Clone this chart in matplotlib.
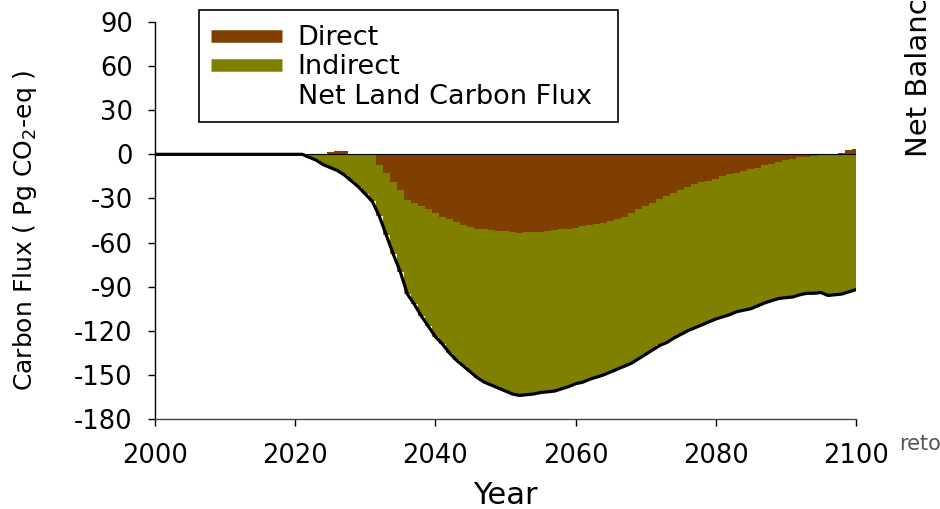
import matplotlib
matplotlib.use("Agg")
import matplotlib.pyplot as plt
from matplotlib.lines import Line2D
from matplotlib.patches import Rectangle
import numpy as np

# Annual land carbon flux components, Pg CO2-eq per year
years = list(range(2000, 2101))

direct = (
    [0.0] * 24                                           # 2000-2023
    + [0.5, 1.5, 2.2, 2.0, 0.5, 0.0, 0.0, 0.0]           # 2024-2031
    + [-7.5, -13, -19, -24.5, -31, -33, -35, -37.5, -40]  # 2032-2040
    + [-42.5, -44, -46, -48, -49.5, -50.5, -51, -51.5, -52, -52]   # 2041-2050
    + [-53, -53.5, -53, -52.5, -52.5, -52, -51.5, -51, -51, -50]   # 2051-2060
    + [-48.5, -48, -47.5, -47, -45.5, -44, -42.5, -40, -37.5, -35]  # 2061-2070
    + [-33, -30.5, -28.5, -26, -24, -22, -20.5, -19, -18, -16.5]   # 2071-2080
    + [-15, -13.5, -12.5, -11, -10, -9, -7.5, -6.5, -5, -4]        # 2081-2090
    + [-3, -2, -1.5, -1, -0.5, 0, 0, 1, 3, 3.5]                    # 2091-2100
)

net_flux = (
    [0.0] * 22                                            # 2000-2021
    + [-2, -4, -7, -9, -11, -14, -18, -22, -27]           # 2022-2030
    + [-32, -42, -55, -68, -80, -95, -102, -110, -117, -124]       # 2031-2040
    + [-129, -135, -140, -144, -148, -152, -155, -157, -159, -161]  # 2041-2050
    + [-163, -164, -163.5, -163, -162, -161.5, -161, -159.5, -158, -156]  # 2051-2060
    + [-155, -153, -151.5, -150, -148, -146, -144, -142, -139, -136]  # 2061-2070
    + [-133, -130, -128, -125, -122.5, -120, -118, -116, -114, -112]  # 2071-2080
    + [-110.5, -109, -107, -106, -105, -103, -101, -99.5, -98, -97.5]  # 2081-2090
    + [-97, -95.5, -94.5, -94.5, -94, -96, -95.5, -95, -93.5, -92]    # 2091-2100
)

y_ticks = [-180, -150, -120, -90, -60, -30, 0, 30, 60, 90]
x_ticks = [2000, 2020, 2040, 2060, 2080, 2100]
legend_labels = ["Direct", "Indirect", "Net Land Carbon Flux"]

BROWN = "#7f3f00"
OLIVE = "#808000"

plt.rcParams["font.family"] = ["DejaVu Sans"]
plt.rcParams["axes.unicode_minus"] = False

W, H = 940, 509
fig = plt.figure(figsize=(W / 100, H / 100), dpi=100)
ax = fig.add_axes([155 / W, 1 - 419 / H, (856 - 155) / W, (419 - 22) / H])

yr = np.array(years, dtype=float)
d = np.array(direct, dtype=float)
n = np.array(net_flux, dtype=float)
d_neg = np.minimum(d, 0.0)

# stacked annual bars: direct on top, indirect below it down to the net flux
ax.fill_between(yr, 0, d, step="mid", color=BROWN, linewidth=0)
ax.fill_between(yr, d_neg, n, step="mid", color=OLIVE, linewidth=0)
ax.plot([2000, 2100], [0, 0], color="black", linewidth=0.8)
ax.plot(yr, n, color="black", linewidth=2.3, solid_joinstyle="round")

ax.set_xlim(2000, 2100)
ax.set_ylim(-180, 90)
ax.set_xticks(x_ticks)
ax.set_yticks(y_ticks)
ax.tick_params(axis="both", direction="out", length=5, width=1,
               labelsize=18.5, colors="black")
ax.tick_params(axis="y", pad=11)
ax.tick_params(axis="x", pad=12)
for side in ("top", "right"):
    ax.spines[side].set_visible(False)
ax.spines["left"].set_color("black")
ax.spines["bottom"].set_color("#444444")
ax.spines["left"].set_linewidth(1.0)
ax.spines["bottom"].set_linewidth(1.0)

ax.set_xlabel("Year", fontsize=22)
ax.xaxis.set_label_coords(0.5, -0.155)
ax.set_ylabel("Carbon Flux ( Pg CO$_2$-eq )", fontsize=18)
ax.yaxis.set_label_coords(-0.166, 0.476)

# legend box drawn separately so its outline can be sized freely
fig.patches.append(Rectangle((199 / W, 1 - 122 / H), (618 - 199) / W, (122 - 10) / H,
                             transform=fig.transFigure, facecolor="white",
                             edgecolor="black", linewidth=1.2, zorder=5))
handles = [
    Line2D([], [], color=BROWN, linewidth=9, solid_capstyle="butt"),
    Line2D([], [], color=OLIVE, linewidth=9, solid_capstyle="butt"),
    Line2D([], [], color="none", linewidth=9),
]
leg = fig.legend(handles, legend_labels,
                 loc="upper left", bbox_to_anchor=(199 / W, 1 - 13 / H),
                 fontsize=19.5, frameon=False, handlelength=2.6,
                 handletextpad=0.6, borderpad=0.45, labelspacing=0.12,
                 borderaxespad=0)
leg.set_zorder(6)

# neighbouring panel labels at the edges of the figure
fig.text(919 / W, 1 - 157 / H, "Net Balance", rotation=90,
         ha="center", va="bottom", fontsize=21)
fig.text(899 / W, 1 - 450 / H, "reto", ha="left", va="baseline",
         fontsize=15, color="#555555")

fig.savefig("out.png", dpi=100)
